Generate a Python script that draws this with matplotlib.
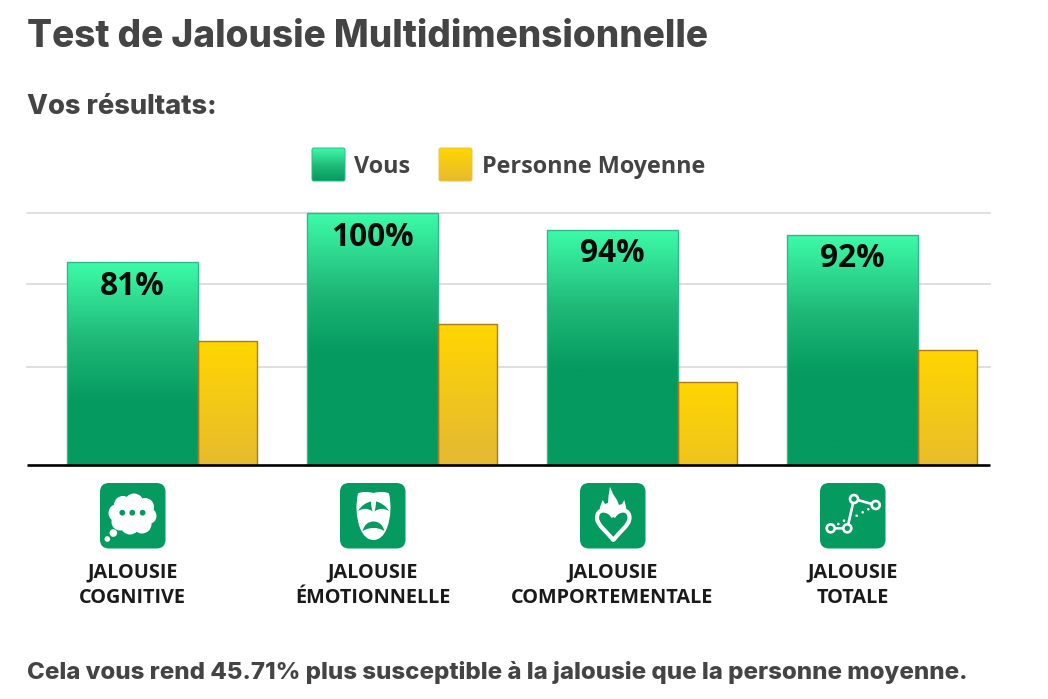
"""Grouped bars with gradient fills and hand-drawn category icons."""
import matplotlib
matplotlib.use("Agg")
import matplotlib.pyplot as plt
import numpy as np
from matplotlib.colors import LinearSegmentedColormap
from matplotlib.patches import Circle, FancyBboxPatch, PathPatch, Polygon
from matplotlib.path import Path

W, H = 1048, 699

CATEGORIES = ["JALOUSIE\nCOGNITIVE", "JALOUSIE\nÉMOTIONNELLE",
              "JALOUSIE\nCOMPORTEMENTALE", "JALOUSIE\nTOTALE"]
VOUS = [80.5, 100, 93.6, 91.6]
VOUS_LABELS = ["81%", "100%", "94%", "92%"]
MOYENNE = [49.4, 55.8, 32.7, 45.8]
GRID_VALUES = [39, 72, 100]

GREEN = "#049a60"
DARK = "#444444"
HEAD_FONT = ["Inter", "DejaVu Sans"]
BODY_FONT = ["Open Sans", "DejaVu Sans"]

green_cmap = LinearSegmentedColormap.from_list(
    "vous", [(0, "#3dfba8"), (0.55, "#1fb877"), (1, GREEN)])
yellow_cmap = LinearSegmentedColormap.from_list(
    "moyenne", [(0, "#ffd600"), (1, "#e6bb30")])


def gradient_bar(ax, rect, cmap, span):
    """Fill a bar with a vertical gradient running `span` y units from its top."""
    x, w, top = rect.get_x(), rect.get_width(), rect.get_height()
    y = np.linspace(top, 0, 256)
    t = np.clip((top - y) / span, 0, 1).reshape(-1, 1)
    im = ax.imshow(t, cmap=cmap, vmin=0, vmax=1, aspect="auto", origin="upper",
                   extent=(x, x + w, 0, top), zorder=rect.get_zorder() - 0.1)
    im.set_clip_path(rect)
    rect.set_clip_on(False)


def rounded_square(ov, x, y, size, radius, **kw):
    ov.add_patch(FancyBboxPatch((x + radius, y + radius), size - 2 * radius, size - 2 * radius,
                                boxstyle=f"round,pad={radius},rounding_size={radius}",
                                linewidth=kw.pop("lw", 0), **kw))


def curve(x, y, pts):
    codes = [Path.MOVETO] + [Path.CURVE4] * (len(pts) - 1)
    return Path([(x + a, y + b) for a, b in pts], codes)


def icon_cloud(ov, x, y):
    lobes = [(17.5, 30, 9), (23, 22, 9), (34, 20, 9.5), (45, 24, 9), (48.5, 33, 8),
             (42, 41, 9.5), (30, 42, 9.5), (20, 39, 8.5), (32, 31, 16),
             (24, 33, 12), (40, 32, 13)]
    for cx, cy, r in lobes:
        ov.add_patch(Circle((x + cx, y + cy), r, fc="white", lw=0))
    for cx in (22.3, 32.3, 42.6):
        ov.add_patch(Circle((x + cx, y + 29.7), 2.9, fc=GREEN, lw=0))
    ov.add_patch(Circle((x + 13.3, y + 50), 3.8, fc="white", lw=0))
    ov.add_patch(Circle((x + 7.3, y + 56), 2.8, fc="white", lw=0))


def icon_mask(ov, x, y):
    face = [(33.5, 10), (28, 8.5), (21, 8.5), (18, 10.5), (15.5, 22), (16, 34), (20, 45),
            (23, 53), (28, 57), (33.5, 57), (39, 57), (44, 53), (47, 45), (51, 34),
            (51.5, 22), (49, 10.5), (46, 8.5), (39, 8.5), (33.5, 10)]
    ov.add_patch(PathPatch(curve(x, y, face), fc="white", lw=0))
    left_eye = [(18, 28), (21, 23), (26, 19.5), (31, 18.5), (31, 22), (31.5, 25), (32.5, 28.5),
                (28, 25), (23, 25), (18, 28)]
    right_eye = [(67 - a, b) for a, b in left_eye]
    mouth = [(22.7, 48), (24, 42), (28, 38.5), (33.5, 38.5), (39, 38.5), (43, 42), (44.3, 48),
             (40, 45.5), (37, 45), (33.5, 45), (30, 45), (27, 45.5), (22.7, 48)]
    for s in (left_eye, right_eye, mouth):
        ov.add_patch(PathPatch(curve(x, y, s), fc=GREEN, lw=0))


def icon_heart(ov, x, y):
    flame = [(19, 32), (20, 24), (22.7, 17), (25, 21), (28, 20), (28.5, 13), (30, 3.7),
             (33, 11), (37, 17), (39, 22), (42, 21), (44.3, 17), (46, 24), (47, 32)]
    ov.add_patch(Polygon([(x + a, y + b) for a, b in flame], fc="white", lw=0))
    heart = [(33.3, 34), (31, 29), (26, 27.5), (23, 27.5), (19, 27.5), (17, 31), (17, 35),
             (17, 42), (28, 50), (33.3, 57), (38.6, 50), (49.5, 42), (49.5, 35),
             (49.5, 31), (47.5, 27.5), (43.5, 27.5), (40.5, 27.5), (35.6, 29), (33.3, 34)]
    ov.add_patch(PathPatch(curve(x, y, heart), fc=GREEN, ec="white", lw=3, joinstyle="round"))


def icon_graph(ov, x, y):
    nodes = [(10.7, 45.3), (27.3, 45.3), (34, 16), (55.7, 22)]
    ov.plot([x + n[0] for n in nodes], [y + n[1] for n in nodes], color="white", lw=1.9)
    for a, b in nodes:
        ov.add_patch(Circle((x + a, y + b), 4, fc=GREEN, ec="white", lw=1.9, zorder=3))
    for a, b in [(18.3, 41), (24, 37.7), (36.7, 32.7), (42.7, 29.3), (48.3, 26.3)]:
        ov.add_patch(Circle((x + a, y + b), 1.3, fc="white", lw=0))


fig = plt.figure(figsize=(W / 100, H / 100), dpi=100, facecolor="white")

# pixel overlay for headings, legend swatches and icons
ov = fig.add_axes([0, 0, 1, 1], zorder=3)
ov.set_xlim(0, W)
ov.set_ylim(H, 0)
ov.axis("off")

px_unit = 240
x_left, x_right = 27, 990
base_y, top_y = 464.5, 213.5
ax = fig.add_axes([x_left / W, 1 - base_y / H, (x_right - x_left) / W, (base_y - top_y) / H])
ax.patch.set_alpha(0)

for v in GRID_VALUES:
    ax.axhline(v, color="#d6d6d6", lw=1.1, zorder=1, clip_on=False)

x = np.arange(len(CATEGORIES))
w_v, w_m = 131 / px_unit, 59 / px_unit
bars_v = ax.bar(x, VOUS, w_v, facecolor="none", edgecolor="#2fb888", lw=1, zorder=3)
bars_m = ax.bar(x + (w_v + w_m) / 2, MOYENNE, w_m, facecolor="none", edgecolor="#a9791c",
                lw=1, zorder=3)
for r in bars_v:
    gradient_bar(ax, r, green_cmap, 56)
for r in bars_m:
    gradient_bar(ax, r, yellow_cmap, 50)
ax.set_xlim((x_left - 132.5) / px_unit, (x_right - 132.5) / px_unit)
ax.set_ylim(0, 100)

for xi, v, lab in zip(x, VOUS, VOUS_LABELS):
    ax.annotate(lab, (xi, v), xytext=(0, -17), textcoords="offset points", ha="center",
                va="center", fontsize=22.8, fontweight="bold", family=BODY_FONT,
                color="#0a0a0a", zorder=5)

for side in ("top", "left", "right"):
    ax.spines[side].set_visible(False)
ax.spines["bottom"].set_linewidth(1.9)
ax.spines["bottom"].set_color("black")
ax.spines["bottom"].set_capstyle("butt")
ax.spines["bottom"].set_zorder(6)
ax.set_yticks([])
ax.set_xticks(x, CATEGORIES, fontsize=14.3, fontweight="bold", family=BODY_FONT,
              color="#1a1a1a", linespacing=1.36)
ax.tick_params(axis="x", length=0, pad=70.5)

# icons
for i, draw in enumerate((icon_cloud, icon_mask, icon_heart, icon_graph)):
    ix, iy = 100 + i * px_unit, 483
    rounded_square(ov, ix, iy, 65.5, 9, fc=GREEN)
    draw(ov, ix, iy)

# legend
for sx, cmap, edge in ((312, green_cmap, "#2fb888"), (439, yellow_cmap, "#e8c34a")):
    im = ov.imshow(np.linspace(0, 1, 128).reshape(-1, 1), cmap=cmap, aspect="auto",
                   extent=(sx, sx + 33, 181, 148), origin="upper", zorder=2)
    clip = FancyBboxPatch((sx + 2, 150), 29, 29, boxstyle="round,pad=2,rounding_size=2",
                          fc="none", ec=edge, lw=0.7, zorder=2.5, transform=ov.transData)
    ov.add_patch(clip)
    im.set_clip_path(clip)
ov.set_xlim(0, W)
ov.set_ylim(H, 0)
ov.text(354, 167, "Vous", fontsize=16.85, fontweight="bold", family=BODY_FONT, color=DARK,
        ha="left", va="center")
ov.text(482, 167, "Personne Moyenne", fontsize=16.85, fontweight="bold", family=BODY_FONT,
        color=DARK, ha="left", va="center")

# headings
ov.text(27, 37, "Test de Jalousie Multidimensionnelle", fontsize=26.6, fontweight="heavy",
        family=HEAD_FONT, color=DARK, ha="left", va="center")
ov.text(27, 107, "Vos résultats:", fontsize=19.6, fontweight="heavy", family=HEAD_FONT,
        color=DARK, ha="left", va="center")
ov.text(27, 673, "Cela vous rend 45.71% plus susceptible à la jalousie que la personne moyenne.",
        fontsize=17.3, fontweight="heavy", family=HEAD_FONT, color=DARK, ha="left", va="center")

fig.savefig("out.png", dpi=100, facecolor="white")
